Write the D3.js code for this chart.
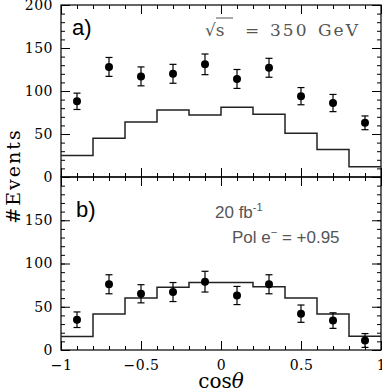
<!DOCTYPE html>
<html>
<head>
<meta charset="utf-8">
<script src="https://cdn.jsdelivr.net/npm/d3@7"></script>
<style>
    body { margin: 0; background: #fff; }
    svg { display: block; }
</style>
</head>
<body>
<script>
// bin centres in cos(theta), 10 bins of width 0.2
var binCenters = [-0.9, -0.7, -0.5, -0.3, -0.1, 0.1, 0.3, 0.5, 0.7, 0.9];
var binWidth = 0.2;

// a) sqrt(s) = 350 GeV
var dataA = [88, 128, 117, 120, 131, 114, 127, 94, 86, 63];
var errA = [9.5, 11, 11, 11, 12, 11, 11, 10, 10, 8];
var mcA = [25, 45, 64, 78, 72, 81, 73, 51, 32, 12];

// b) 20 fb-1, Pol e- = +0.95
var dataB = [35, 76, 65, 67, 79, 63, 76, 42, 34, 11];
var errB = [9, 11, 10.5, 11, 12, 10.5, 11, 10, 9, 8];
var mcB = [15.5, 41.5, 60, 72.5, 78, 78, 73, 60, 41.5, 16];

var xTicks = [-1, -0.5, 0, 0.5, 1];
var xMinor = d3.range(-10, 11).map(function(d) { return d / 10; });
var yTicksA = [0, 50, 100, 150, 200];
var yTicksB = [0, 50, 100, 150];
var yMinor = d3.range(0, 201, 10);

// note: "top" is taken by window.top, so frame edges get plot* names
var W = 382, H = 391;
var plotLeft = 61, plotRight = 381, plotTop = 5, plotMid = 177, plotBottom = 350;

var svg = d3.select('body').append('svg')
    .attr('width', W)
    .attr('height', H);

var x = d3.scaleLinear().domain([-1, 1]).range([plotLeft, plotRight]);
var yA = d3.scaleLinear().domain([0, 200]).range([plotMid, plotTop]);
var yB = d3.scaleLinear().domain([0, 200]).range([plotBottom, plotMid]);

var fmt = d3.format('');

function styleAxis(g) {
    g.select('.domain').remove();
    g.selectAll('.tick line').attr('stroke', '#000').attr('stroke-width', 1);
    g.selectAll('.tick text')
        .attr('fill', '#000')
        .style('font-family', '"DejaVu Serif", serif')
        .style('font-size', '14px')
        .style('letter-spacing', '0.5px');
}

function drawPanel(y, data, err, mc, yTicks, xLabels) {
    var g = svg.append('g');
    var y0 = y.range()[0], y1 = y.range()[1];

    // left / right axes, ticks pointing inward
    g.append('g').attr('transform', 'translate(' + plotLeft + ',0)')
        .call(d3.axisLeft(y).tickValues(yMinor).tickSize(-4).tickFormat(''))
        .call(styleAxis);
    g.append('g').attr('transform', 'translate(' + plotLeft + ',0)')
        .call(d3.axisLeft(y).tickValues(yTicks).tickSize(-9).tickPadding(8).tickFormat(fmt))
        .call(styleAxis);
    g.append('g').attr('transform', 'translate(' + plotRight + ',0)')
        .call(d3.axisRight(y).tickValues(yMinor).tickSize(-4).tickFormat(''))
        .call(styleAxis);
    g.append('g').attr('transform', 'translate(' + plotRight + ',0)')
        .call(d3.axisRight(y).tickValues(yTicks).tickSize(-9).tickFormat(''))
        .call(styleAxis);

    // bottom / top axes
    g.append('g').attr('transform', 'translate(0,' + y0 + ')')
        .call(d3.axisBottom(x).tickValues(xMinor).tickSize(-4).tickFormat(''))
        .call(styleAxis);
    g.append('g').attr('transform', 'translate(0,' + y0 + ')')
        .call(d3.axisBottom(x).tickValues(xTicks).tickSize(-9).tickPadding(10)
            .tickFormat(xLabels ? fmt : ''))
        .call(styleAxis);
    g.append('g').attr('transform', 'translate(0,' + y1 + ')')
        .call(d3.axisTop(x).tickValues(xMinor).tickSize(-4).tickFormat(''))
        .call(styleAxis);
    g.append('g').attr('transform', 'translate(0,' + y1 + ')')
        .call(d3.axisTop(x).tickValues(xTicks).tickSize(-9).tickFormat(''))
        .call(styleAxis);

    g.append('rect')
        .attr('x', plotLeft).attr('y', y1)
        .attr('width', plotRight - plotLeft).attr('height', y0 - y1)
        .attr('fill', 'none').attr('stroke', '#000').attr('stroke-width', 1.2);

    // MC histogram as steps
    var steps = mc.map(function(v, i) { return [binCenters[i] - binWidth / 2, v]; });
    steps.push([binCenters[binCenters.length - 1] + binWidth / 2, mc[mc.length - 1]]);
    var line = d3.line()
        .x(function(d) { return x(d[0]); })
        .y(function(d) { return y(d[1]); })
        .curve(d3.curveStepAfter);
    g.append('path')
        .datum(steps)
        .attr('d', line)
        .attr('fill', 'none')
        .attr('stroke', '#222')
        .attr('stroke-width', 1.5);

    // data points with error bars
    var pts = g.append('g').selectAll('g')
        .data(data.map(function(v, i) { return { c: binCenters[i], v: v, e: err[i] }; }))
        .join('g');
    pts.append('line')
        .attr('x1', function(d) { return x(d.c); })
        .attr('x2', function(d) { return x(d.c); })
        .attr('y1', function(d) { return y(d.v - d.e); })
        .attr('y2', function(d) { return y(d.v + d.e); })
        .attr('stroke', '#000').attr('stroke-width', 1.2);
    [-1, 1].forEach(function(s) {
        pts.append('line')
            .attr('x1', function(d) { return x(d.c) - 3.5; })
            .attr('x2', function(d) { return x(d.c) + 3.5; })
            .attr('y1', function(d) { return y(d.v + s * d.e); })
            .attr('y2', function(d) { return y(d.v + s * d.e); })
            .attr('stroke', '#000').attr('stroke-width', 1.2);
    });
    pts.append('circle')
        .attr('cx', function(d) { return x(d.c); })
        .attr('cy', function(d) { return y(d.v); })
        .attr('r', 4)
        .attr('fill', '#000');
}

drawPanel(yA, dataA, errA, mcA, yTicksA, false);
drawPanel(yB, dataB, errB, mcB, yTicksB, true);

// labels
var serif = '"DejaVu Serif", serif';
var sans = '"Liberation Sans", Arial, sans-serif';

svg.append('text')
    .attr('transform', 'translate(20,176) rotate(-90)')
    .attr('text-anchor', 'middle')
    .style('font-family', serif).style('font-size', '19px').style('letter-spacing', '2px')
    .text('#Events');

var xl = svg.append('text')
    .attr('x', 221).attr('y', 388)
    .attr('text-anchor', 'middle')
    .style('font-family', serif).style('font-size', '20px');
xl.append('tspan').text('cos');
xl.append('tspan').style('font-style', 'italic').text('θ');

svg.append('text').attr('x', 72).attr('y', 35)
    .style('font-family', sans).style('font-size', '22px').text('a)');
svg.append('text').attr('x', 76).attr('y', 217)
    .style('font-family', sans).style('font-size', '22px').text('b)');

// sqrt(s) = 350 GeV
var gs = svg.append('g')
    .style('font-family', serif).style('font-size', '17px').attr('fill', '#555');
gs.append('text').attr('x', 205).attr('y', 36).text('√s');
gs.append('line').attr('x1', 216).attr('x2', 233).attr('y1', 18).attr('y2', 18)
    .attr('stroke', '#555').attr('stroke-width', 1);
gs.append('text').attr('x', 245).attr('y', 36).text('=');
gs.append('text').attr('x', 270).attr('y', 36).style('letter-spacing', '2px').text('350');
gs.append('text').attr('x', 318).attr('y', 36).style('letter-spacing', '2px').text('GeV');

var t1 = svg.append('text').attr('x', 215).attr('y', 218)
    .style('font-family', sans).style('font-size', '17px').attr('fill', '#555');
t1.append('tspan').text('20 fb');
t1.append('tspan').attr('dy', -7).style('font-size', '11px').text('-1');

var t2 = svg.append('text').attr('x', 232).attr('y', 243)
    .style('font-family', sans).style('font-size', '17px').attr('fill', '#555');
t2.append('tspan').text('Pol e');
t2.append('tspan').attr('dy', -7).style('font-size', '11px').text('−');
t2.append('tspan').attr('dy', 7).text(' = +0.95');
</script>
</body>
</html>
